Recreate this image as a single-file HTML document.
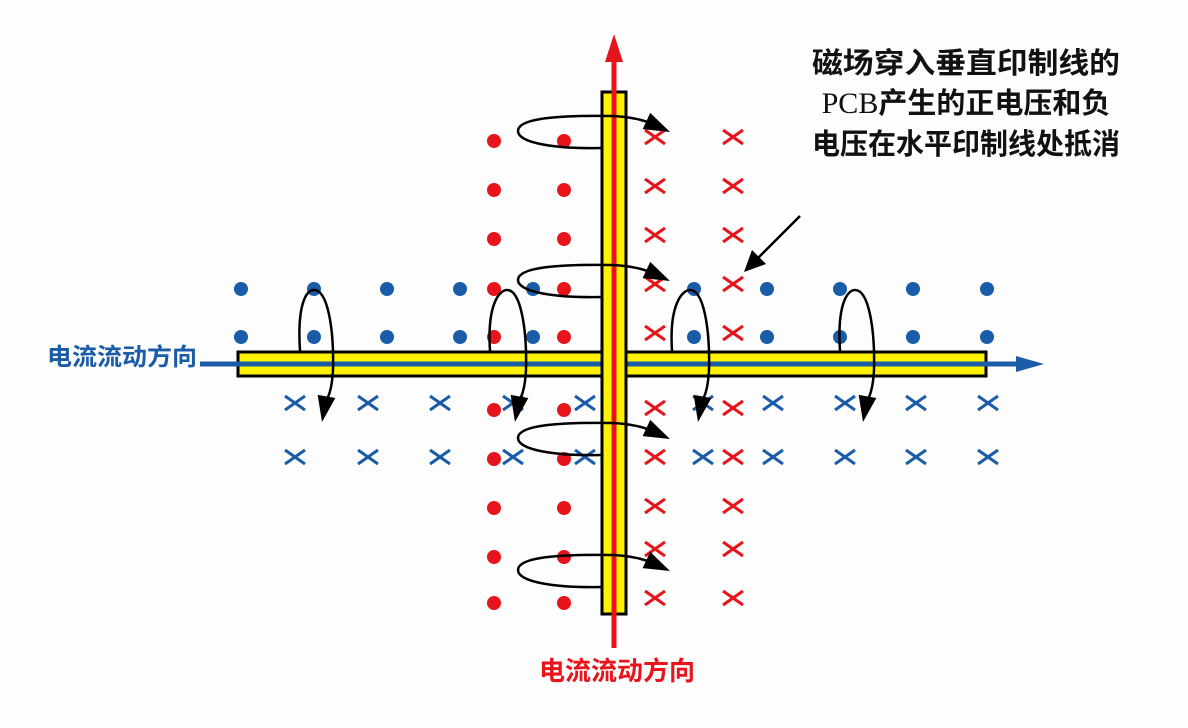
<!DOCTYPE html>
<html><head><meta charset="utf-8"><style>
html,body{margin:0;padding:0;background:#fdfdfd;}
svg{display:block;}
</style></head><body>
<svg id="s" width="1188" height="728" viewBox="0 0 1188 728" xmlns="http://www.w3.org/2000/svg">
<rect width="1188" height="728" fill="#fdfdfd"/>
<g id="marks"></g>
<!-- horizontal trace -->
<rect x="238" y="352" width="748" height="24" fill="#fff200" stroke="#000" stroke-width="3"/>
<line x1="200" y1="364" x2="1020" y2="364" stroke="#1a5ca8" stroke-width="5"/>
<polygon points="1044,364 1016,356 1016,372" fill="#1a5ca8"/>
<!-- vertical trace -->
<rect x="602" y="92" width="24" height="522" fill="#fff200" stroke="#000" stroke-width="3"/>
<line x1="614" y1="58" x2="614" y2="648" stroke="#e8141c" stroke-width="5"/>
<polygon points="614,34 605,62 623,62" fill="#e8141c"/>
<g id="loops" fill="none" stroke="#000" stroke-width="2.5"></g>
<g id="heads" fill="#000"></g>
<!-- pointer arrow -->
<line x1="800" y1="216" x2="758" y2="258" stroke="#000" stroke-width="2.5"/>
<polygon points="744,272 752,250 766,264" fill="#000"/>
<g font-family="'Liberation Sans','Noto Sans CJK SC',sans-serif" font-weight="bold">
<text x="966" y="73" font-size="29" text-anchor="middle" fill="#111" textLength="308" lengthAdjust="spacingAndGlyphs">磁场穿入垂直印制线的</text>
<text x="966" y="113" font-size="29" text-anchor="middle" fill="#111"><tspan font-family="'Liberation Serif',serif" font-weight="normal" font-size="30">PCB</tspan>产生的正电压和负</text>
<text x="966" y="154" font-size="29" text-anchor="middle" fill="#111" textLength="308" lengthAdjust="spacingAndGlyphs">电压在水平印制线处抵消</text>
<text x="47" y="365" font-size="24" fill="#1a5ca8" textLength="150" lengthAdjust="spacingAndGlyphs">电流流动方向</text>
<text x="539" y="680" font-size="26" fill="#e8141c" textLength="156" lengthAdjust="spacingAndGlyphs">电流流动方向</text>
</g>
</svg>
<script>
var NS="http://www.w3.org/2000/svg",m=document.getElementById('marks');
function dot(x,y,c){var e=document.createElementNS(NS,'circle');e.setAttribute('cx',x);e.setAttribute('cy',y);e.setAttribute('r',7);e.setAttribute('fill',c);m.appendChild(e);}
function cross(x,y,c){var e=document.createElementNS(NS,'path');e.setAttribute('d','M'+(x-10)+','+(y-7)+'L'+(x+10)+','+(y+7)+'M'+(x-10)+','+(y+7)+'L'+(x+10)+','+(y-7));e.setAttribute('stroke',c);e.setAttribute('stroke-width',3);m.appendChild(e);}
var B='#1a5ca8',R='#e8141c';
[241,314,387,460,533,694,767,840,913,987].forEach(function(x){dot(x,289,B);dot(x,337,B);});
[295,368,440,513,585,703,773,845,916,988].forEach(function(x){cross(x,403,B);cross(x,457,B);});
[141,190,239,289,337,410,459,508,557,603].forEach(function(y){dot(494,y,R);dot(564,y,R);});
[137,186,235,284,333,408,457,506,549,598].forEach(function(y){cross(655,y,R);cross(733,y,R);});
var L=document.getElementById('loops'),H=document.getElementById('heads');
function p(d){var e=document.createElementNS(NS,'path');e.setAttribute('d',d);L.appendChild(e);}
function h(tx,ty,ang){var a=ang*Math.PI/180,l=26,w=9;var bx=tx-l*Math.cos(a),by=ty-l*Math.sin(a);var e=document.createElementNS(NS,'polygon');e.setAttribute('points',tx+','+ty+' '+(bx-w*Math.sin(a))+','+(by+w*Math.cos(a))+' '+(bx+w*Math.sin(a))+','+(by-w*Math.cos(a)));H.appendChild(e);}
[118,267,425,557].forEach(function(y){
 p('M601,'+(y+30)+' C555,'+(y+31)+' 518,'+(y+25)+' 518,'+(y+13)+' C518,'+y+' 560,'+(y-3)+' 612,'+(y-2)+' C635,'+(y-1)+' 650,'+(y+4)+' 656,'+(y+8));
 h(670,y+14,25);
});
[[300,314],[490,507],[672,690],[840,855]].forEach(function(a){
 var x=a[0],t=a[1];
 p('M'+x+',351 C'+(x-3)+',305 '+(t-8)+',290 '+t+',290 C'+(t+14)+',290 '+(t+20)+',330 '+(t+19)+',370 C'+(t+18)+',390 '+(t+14)+',398 '+(t+12)+',400');
 h(t+8,422,100);
});
</script>
</body></html>
